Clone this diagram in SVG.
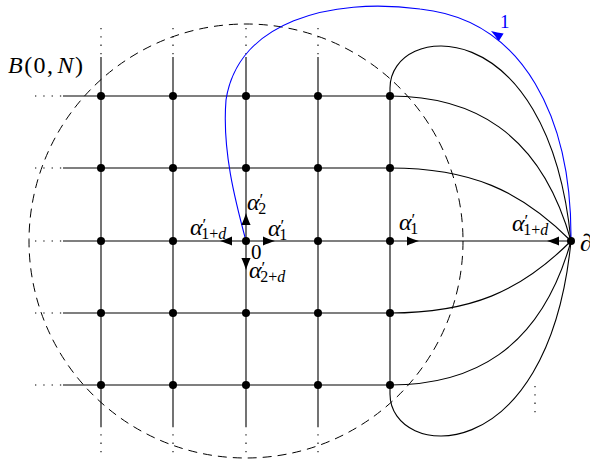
<svg xmlns="http://www.w3.org/2000/svg" width="590" height="459" viewBox="0 0 590 459">
<defs>
<style>
.ln{stroke:#000;stroke-width:1.1;fill:none}
.dt{stroke:#000;stroke-width:1.1;stroke-dasharray:1.3 7;fill:none}
.dash{stroke:#000;stroke-width:1;stroke-dasharray:9 6;fill:none}
.blue{stroke:#0000ff;stroke-width:1.1;fill:none}
.nd{fill:#000}
.t{font-family:"Liberation Serif","Times New Roman",serif;font-style:italic;fill:#000;font-size:24px}
.r{font-family:"Liberation Serif","Times New Roman",serif;font-style:normal}
.s{font-size:16px}
.p{font-size:17px}
</style>
<path id="ah" d="M0,0 C-4,-1.2 -8.5,-3 -12,-4.6 L-12,4.6 C-8.5,3 -4,1.2 0,0Z"/>
</defs>
<rect width="590" height="459" fill="#fff"/>

<g id="ball">
<circle class="dash" cx="246" cy="241" r="217"/>
</g>

<g id="connectors">
<path class="dt" d="M101,28V57 M173,28V57 M246,28V57 M318,28V57 M101,426V459 M173,426V459 M246,426V459 M318,426V459 M35,96H63 M35,168H63 M35,241H63 M35,313H63 M35,385H63 M535,386V416"/>
<path class="ln" d="M101,57V426 M173,57V426 M246,57V426 M318,57V426 M390,88V394 M63,96H390 M63,168H390 M63,241H571 M63,313H390 M63,385H390"/>
<path class="ln" d="M390,88 C390,22 548,8 571,241"/>
<path class="ln" d="M390,96 C470,96 540,130 571,241"/>
<path class="ln" d="M390,168 C470,168 520,190 571,241"/>
<path class="ln" d="M390,313 C470,313 520,292 571,241"/>
<path class="ln" d="M390,385 C470,385 540,352 571,241"/>
<path class="ln" d="M390,394 C390,460 548,474 571,241"/>
<path class="blue" d="M571,241 C572,120 525,20 420,9 C330,-3 238,22 226,100 C222,150 235,200 246,241"/>
<use href="#ah" transform="translate(246,213) rotate(-90)"/>
<use href="#ah" transform="translate(275,241)"/>
<use href="#ah" transform="translate(220,241) rotate(180)"/>
<use href="#ah" transform="translate(246,270) rotate(90)"/>
<use href="#ah" transform="translate(419,241)"/>
<use href="#ah" transform="translate(547,241) rotate(180)"/>
<use href="#ah" fill="#0000ff" transform="translate(491,31) rotate(-148)"/>
</g>

<g id="nodes">
<g id="n-0-0"><circle class="nd" cx="101" cy="96" r="4"/></g>
<g id="n-1-0"><circle class="nd" cx="173" cy="96" r="4"/></g>
<g id="n-2-0"><circle class="nd" cx="246" cy="96" r="4"/></g>
<g id="n-3-0"><circle class="nd" cx="318" cy="96" r="4"/></g>
<g id="n-4-0"><circle class="nd" cx="390" cy="96" r="4"/></g>
<g id="n-0-1"><circle class="nd" cx="101" cy="168" r="4"/></g>
<g id="n-1-1"><circle class="nd" cx="173" cy="168" r="4"/></g>
<g id="n-2-1"><circle class="nd" cx="246" cy="168" r="4"/></g>
<g id="n-3-1"><circle class="nd" cx="318" cy="168" r="4"/></g>
<g id="n-4-1"><circle class="nd" cx="390" cy="168" r="4"/></g>
<g id="n-0-2"><circle class="nd" cx="101" cy="241" r="4"/></g>
<g id="n-1-2"><circle class="nd" cx="173" cy="241" r="4"/></g>
<g id="n-origin"><circle class="nd" cx="246" cy="241" r="4"/></g>
<g id="n-3-2"><circle class="nd" cx="318" cy="241" r="4"/></g>
<g id="n-4-2"><circle class="nd" cx="390" cy="241" r="4"/></g>
<g id="n-0-3"><circle class="nd" cx="101" cy="313" r="4"/></g>
<g id="n-1-3"><circle class="nd" cx="173" cy="313" r="4"/></g>
<g id="n-2-3"><circle class="nd" cx="246" cy="313" r="4"/></g>
<g id="n-3-3"><circle class="nd" cx="318" cy="313" r="4"/></g>
<g id="n-4-3"><circle class="nd" cx="390" cy="313" r="4"/></g>
<g id="n-0-4"><circle class="nd" cx="101" cy="385" r="4"/></g>
<g id="n-1-4"><circle class="nd" cx="173" cy="385" r="4"/></g>
<g id="n-2-4"><circle class="nd" cx="246" cy="385" r="4"/></g>
<g id="n-3-4"><circle class="nd" cx="318" cy="385" r="4"/></g>
<g id="n-4-4"><circle class="nd" cx="390" cy="385" r="4"/></g>
<g id="n-boundary"><circle class="nd" cx="571" cy="241" r="4"/>
<text class="t" x="580" y="251" font-size="27">∂</text></g>
</g>

<g id="labels">
<text class="t" x="8" y="73" textLength="75" lengthAdjust="spacing">B<tspan class="r">(0,</tspan><tspan dx="3">N</tspan><tspan class="r">)</tspan></text>

<text class="t" x="247" y="210">α<tspan class="r p" dy="-5">′</tspan><tspan class="r s" dx="-5" dy="9">2</tspan></text>
<text class="t" x="190" y="235">α<tspan class="r p" dy="-5">′</tspan><tspan class="r s" dx="-5" dy="9">1+</tspan><tspan class="s">d</tspan></text>
<text class="t" x="268" y="236">α<tspan class="r p" dy="-5">′</tspan><tspan class="r s" dx="-5" dy="9">1</tspan></text>
<text class="r" x="251" y="259" font-size="21">0</text>
<text class="t" x="249" y="278">α<tspan class="r p" dy="-5">′</tspan><tspan class="r s" dx="-5" dy="9">2+</tspan><tspan class="s">d</tspan></text>
<text class="t" x="399" y="230">α<tspan class="r p" dy="-5">′</tspan><tspan class="r s" dx="-5" dy="9">1</tspan></text>
<text class="t" x="512" y="231">α<tspan class="r p" dy="-5">′</tspan><tspan class="r s" dx="-5" dy="9">1+</tspan><tspan class="s">d</tspan></text>
<text class="r" x="500" y="28" font-size="19" fill="#0000ff">1</text>
</g>
</svg>
